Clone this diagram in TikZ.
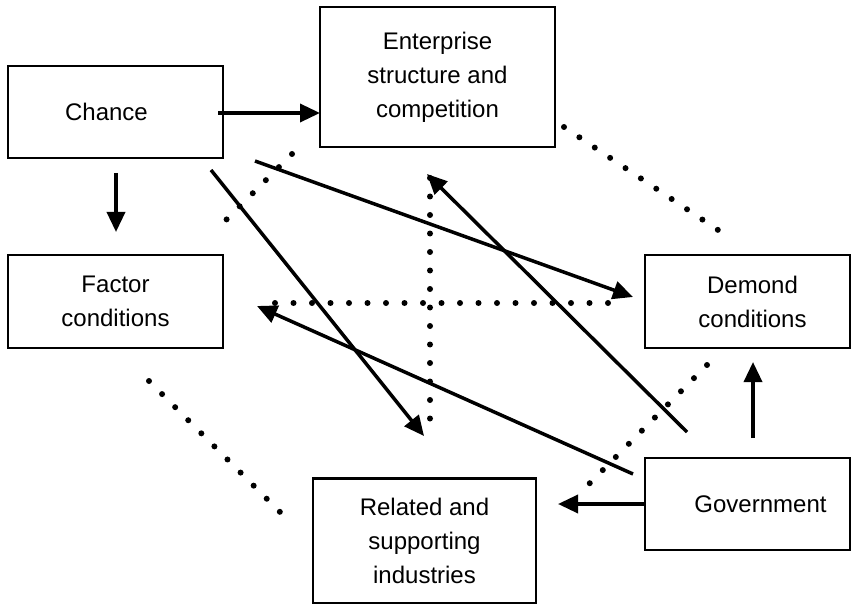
\documentclass[tikz,border=0pt]{standalone}
\usepackage{fontspec}
\setmainfont{Liberation Sans}
\usetikzlibrary{arrows.meta}
\begin{document}
\begin{tikzpicture}[x=1pt,y=-1pt,
  box/.style={draw=black,line width=2.8pt,fill=white,align=center,inner sep=0pt,
    font=\fontsize{24}{34}\selectfont},
  arr/.style={line width=3.5pt,-{Triangle[length=20pt,width=18pt]}},
  dotline/.style={line width=6pt,line cap=round,dash pattern=on 0pt off 18.5pt}]
\useasboundingbox (0,0) rectangle (851,604);
\fill[white] (0,0) rectangle (851,604);
% nodes
\node[box,minimum width=215pt,minimum height=92pt] (chance) at (115.5,112) {\hspace*{-18pt}Chance};
\node[box,minimum width=235pt,minimum height=140pt] (ent) at (437.5,77) {Enterprise\\structure and\\competition};
\node[box,minimum width=215pt,minimum height=93pt] (factor) at (115.5,301.5) {Factor\\conditions};
\node[box,minimum width=205pt,minimum height=93pt] (demand) at (747.5,301.5) {\hspace*{10pt}Demond\\\hspace*{10pt}conditions};
\node[box,minimum width=223pt,minimum height=125pt] (rel) at (424.5,541) {Related and\\supporting\\industries};
\node[box,minimum width=205pt,minimum height=92pt] (gov) at (747.5,504) {\hspace*{26pt}Government};
% connector end points
\coordinate (c1s) at (218,113);  \coordinate (c1e) at (320,113);
\coordinate (c2s) at (116,173);  \coordinate (c2e) at (116,232);
\coordinate (g1s) at (753,438);  \coordinate (g1e) at (753,362);
\coordinate (g2s) at (645,504);  \coordinate (g2e) at (558,504);
\coordinate (a1s) at (255,161);  \coordinate (a1e) at (633,297);
\coordinate (a2s) at (211,170);  \coordinate (a2e) at (424,436);
\coordinate (a3s) at (633,474);  \coordinate (a3e) at (257,306);
\coordinate (a4s) at (687,432);  \coordinate (a4e) at (427,174);
% dotted end points
\coordinate (hd1) at (275,303);  \coordinate (hd2) at (617,303);
\coordinate (vd1) at (430,178);  \coordinate (vd2) at (430,428);
\coordinate (d1a) at (292,154);  \coordinate (d1b) at (225,221);
\coordinate (d2a) at (564,127);  \coordinate (d2b) at (721,232);
\coordinate (d3a) at (149,381);  \coordinate (d3b) at (283,515);
\coordinate (d4a) at (707,365);  \coordinate (d4b) at (586,487);
% dotted lines
\draw[dotline] (hd1) -- (hd2);
\draw[dotline] (vd1) -- (vd2);
\draw[dotline] (d1a) -- (d1b);
\draw[dotline] (d2a) -- (d2b);
\draw[dotline] (d3a) -- (d3b);
\draw[dotline] (d4a) -- (d4b);
% arrows
\draw[arr] (c1s) -- (c1e);
\draw[arr] (c2s) -- (c2e);
\draw[arr] (g1s) -- (g1e);
\draw[arr] (g2s) -- (g2e);
\draw[arr] (a1s) -- (a1e);
\draw[arr] (a2s) -- (a2e);
\draw[arr] (a3s) -- (a3e);
\draw[arr] (a4s) -- (a4e);
\end{tikzpicture}
\end{document}
